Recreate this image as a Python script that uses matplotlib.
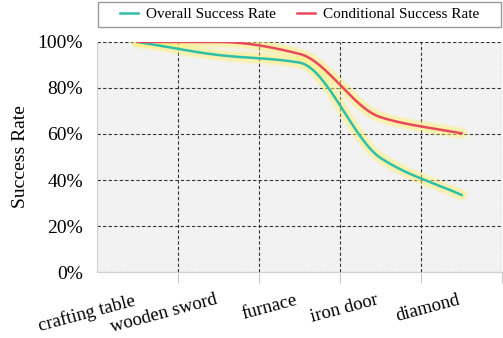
import numpy as np
import matplotlib.pyplot as plt
from matplotlib.patches import Rectangle
from matplotlib.ticker import FixedLocator, PercentFormatter

plt.rcParams['font.family'] = ['Liberation Serif', 'DejaVu Serif']

# data (percent)
tasks = ['crafting table', 'wooden sword', 'furnace', 'iron door', 'diamond']
overall = [100, 94.3, 91.0, 49.6, 33.5]
conditional = [100, 100, 94.8, 67.3, 60.3]

labels = ['Overall Success Rate', 'Conditional Success Rate']
colors = ['#2ebfa9', '#e8495c']
glow = '#fff06a'


def pchip(x, y, xs):
    # monotone cubic, only used to smooth the drawn line
    x = np.asarray(x, float)
    y = np.asarray(y, float)
    h = np.diff(x)
    d = np.diff(y) / h
    m = np.zeros_like(y)
    for k in range(1, len(x) - 1):
        if d[k - 1] * d[k] > 0:
            w1 = 2 * h[k] + h[k - 1]
            w2 = h[k] + 2 * h[k - 1]
            m[k] = (w1 + w2) / (w1 / d[k - 1] + w2 / d[k])
    # one-sided slopes at both ends
    m[0] = d[0]
    m[-1] = d[-1]
    idx = np.clip(np.searchsorted(x, xs) - 1, 0, len(x) - 2)
    t = (xs - x[idx]) / h[idx]
    h00 = 2 * t**3 - 3 * t**2 + 1
    h10 = t**3 - 2 * t**2 + t
    h01 = -2 * t**3 + 3 * t**2
    h11 = t**3 - t**2
    return h00 * y[idx] + h10 * h[idx] * m[idx] + h01 * y[idx + 1] + h11 * h[idx] * m[idx + 1]


fig = plt.figure(figsize=(5.03, 3.38), dpi=100)
ax = fig.add_axes([0.193, 0.195, 0.805, 0.681])
ax.set_facecolor('#f2f2f2')

xpos = np.arange(len(tasks))
xs = np.linspace(0, len(tasks) - 1, 400)
handles = []
for vals, c, lab in zip([overall, conditional], colors, labels):
    ys = pchip(xpos, vals, xs)
    ax.plot(xs, ys, color=glow, lw=9, alpha=0.25, solid_capstyle='round', zorder=3)
    ax.plot(xs, ys, color=glow, lw=6, alpha=0.35, solid_capstyle='round', zorder=3)
    ln, = ax.plot(xs, ys, color=c, lw=1.8, zorder=4, label=lab)
    handles.append(ln)

ax.set_xlim(-0.5, len(tasks) - 0.5)
ax.set_ylim(0, 100)
ax.yaxis.set_major_locator(FixedLocator([0, 20, 40, 60, 80, 100]))
ax.yaxis.set_major_formatter(PercentFormatter(decimals=0))
ax.set_xticks(xpos)
ax.set_xticklabels(tasks, rotation=15, ha='right')
ax.xaxis.set_minor_locator(FixedLocator(xpos + 0.5))

ax.tick_params(axis='y', which='major', length=0, labelsize=14, pad=10)
ax.tick_params(axis='x', which='major', length=0, labelsize=13.5, pad=14)
ax.tick_params(axis='x', which='minor', length=8, color='#c8c8c8', width=0.8)

ax.grid(True, axis='y', which='major', linestyle=(0, (3, 2)), color='#333333', lw=0.8)
ax.grid(True, axis='x', which='minor', linestyle=(0, (3, 2)), color='#333333', lw=0.8)
ax.set_axisbelow(True)

for side in ['top', 'right']:
    ax.spines[side].set_visible(False)
for side in ['left', 'bottom']:
    ax.spines[side].set_color('#d0d0d0')
    ax.spines[side].set_linewidth(0.8)

ax.set_ylabel('Success Rate', fontsize=14, labelpad=6)

# legend box spanning the axes width, above the plot
ax.add_patch(Rectangle((0.002, 1.065), 0.996, 0.108, transform=ax.transAxes,
                       facecolor='white', edgecolor='#9a9a9a', lw=1.0, clip_on=False))
ax.legend(handles=handles, loc='center', bbox_to_anchor=(0.5, 1.119), ncol=2,
          frameon=False, fontsize=11, handlelength=1.2, handletextpad=0.5,
          columnspacing=1.4, borderpad=0.2)

fig.savefig('out.png', dpi=100)
